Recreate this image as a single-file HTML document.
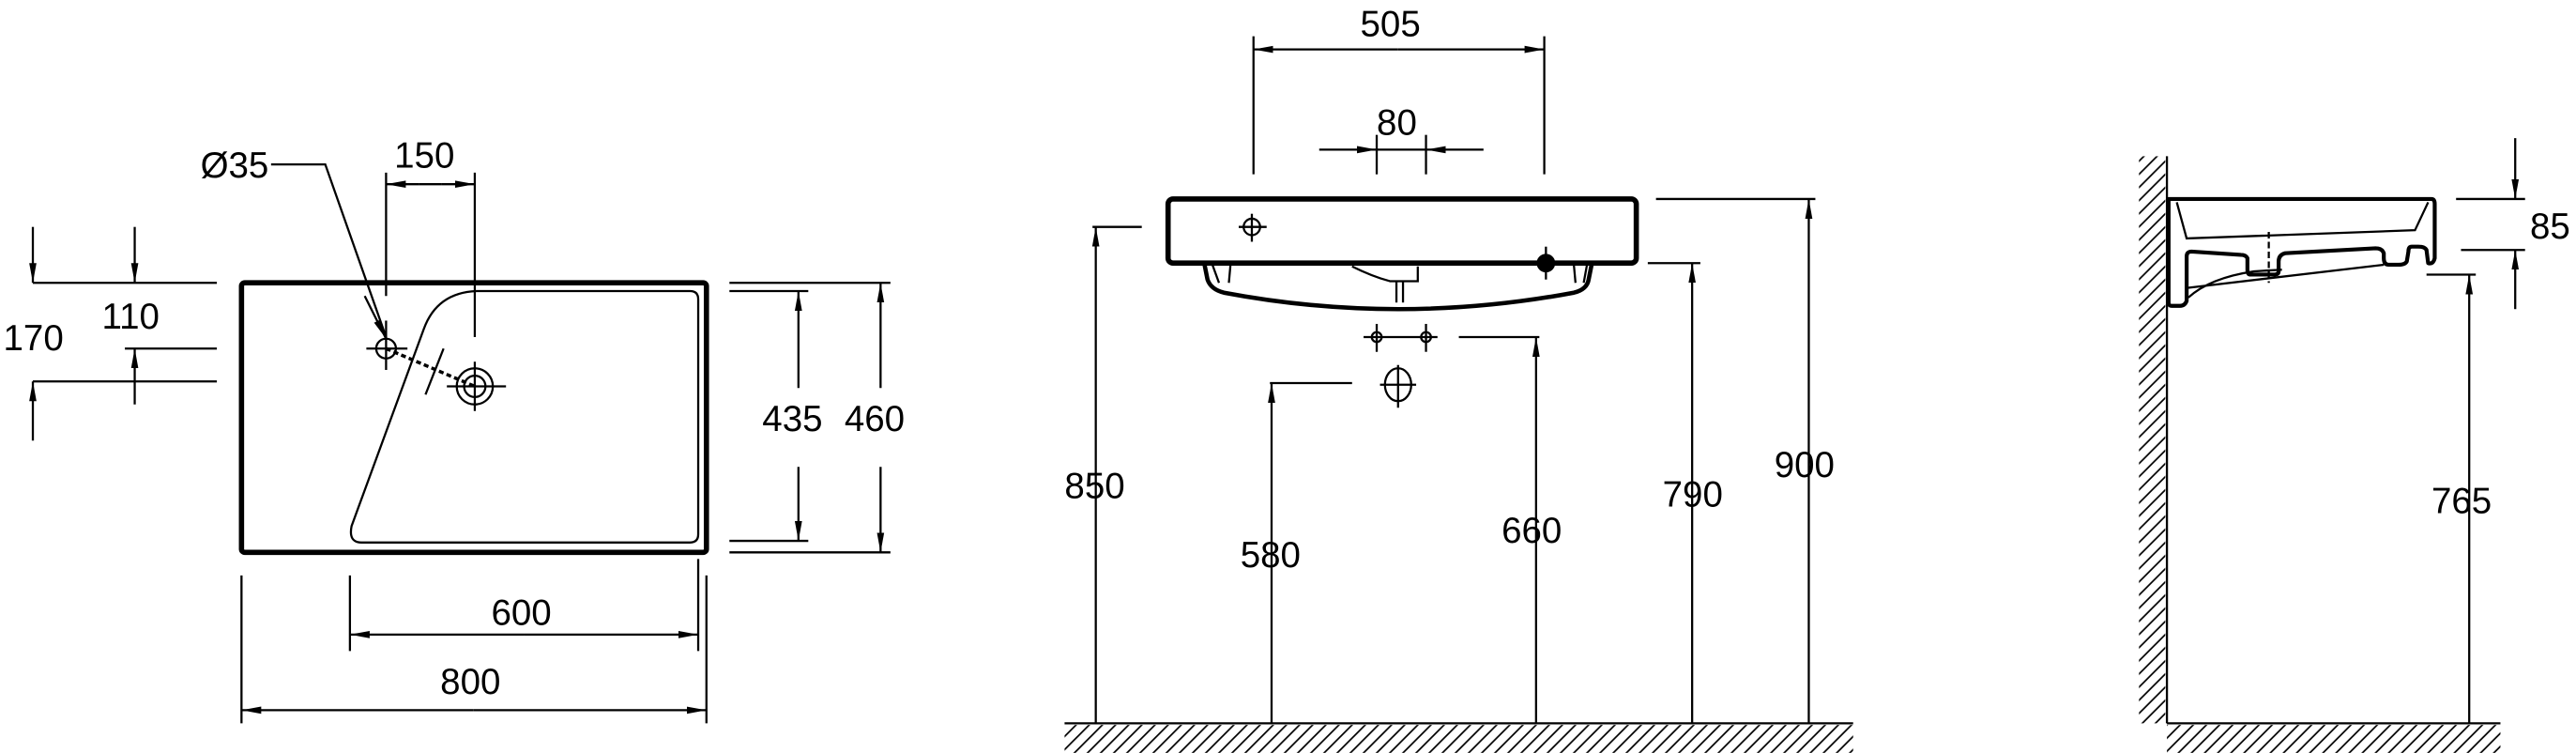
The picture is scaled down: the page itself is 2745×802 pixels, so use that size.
<!DOCTYPE html>
<html><head><meta charset="utf-8"><style>
html,body{margin:0;padding:0;background:#fff;}
svg{display:block;}
text{font-family:"Liberation Sans",sans-serif;font-size:22px;fill:#000;}
</style></head><body>
<svg width="2745" height="802" viewBox="0 0 1568 458" xmlns="http://www.w3.org/2000/svg">
<defs>
<marker id="a" markerWidth="12" markerHeight="6" refX="12" refY="3" orient="auto" markerUnits="userSpaceOnUse"><path d="M0,0.8 L12,3 L0,5.2z" fill="#000"/></marker>
<pattern id="h" width="8" height="8" patternUnits="userSpaceOnUse"><path d="M0,8 L8,0 M-2,2 L2,-2 M6,10 L10,6" stroke="#000" stroke-width="1"/></pattern>
</defs>
<g fill="none" stroke="#000" stroke-width="1.3">
<!-- LEFT VIEW -->
<rect x="147" y="172" width="283" height="164" rx="2" stroke-width="3.2"/>
<path d="M290,177 L420,177 Q425,177 425,182 L425,325 Q425,330 420,330 L220,330 Q212,330 214,320 L258,200 Q266,178 290,177"/>
<line x1="20" y1="172" x2="132" y2="172"/><line x1="20" y1="232" x2="132" y2="232"/><line x1="76" y1="212" x2="132" y2="212"/>
<line x1="20" y1="138" x2="20" y2="172" marker-end="url(#a)"/><line x1="20" y1="268" x2="20" y2="232" marker-end="url(#a)"/>
<line x1="82" y1="138" x2="82" y2="172" marker-end="url(#a)"/><line x1="82" y1="246" x2="82" y2="212" marker-end="url(#a)"/>
<line x1="235" y1="105" x2="235" y2="180"/><line x1="235" y1="195" x2="235" y2="225"/><line x1="289" y1="105" x2="289" y2="205"/>
<line x1="255" y1="112" x2="235" y2="112" marker-end="url(#a)"/><line x1="269" y1="112" x2="289" y2="112" marker-end="url(#a)"/><line x1="255" y1="112" x2="269" y2="112"/>
<path d="M165,100 L198,100 L235,205" /><line x1="222" y1="180" x2="235" y2="206" marker-end="url(#a)"/>
<circle cx="235" cy="212" r="6"/><line x1="223" y1="212" x2="248" y2="212"/>
<circle cx="289" cy="235" r="11"/><circle cx="289" cy="235" r="6.5"/><line x1="289" y1="220" x2="289" y2="250"/><line x1="272" y1="235" x2="308" y2="235"/>
<line x1="235" y1="212" x2="289" y2="235" stroke-dasharray="3,2" stroke-width="2"/><line x1="270" y1="212" x2="259" y2="240"/>
<line x1="444" y1="172" x2="542" y2="172"/><line x1="444" y1="336" x2="542" y2="336"/><line x1="444" y1="177" x2="492" y2="177"/><line x1="444" y1="329" x2="492" y2="329"/>
<line x1="486" y1="236" x2="486" y2="177" marker-end="url(#a)"/><line x1="486" y1="284" x2="486" y2="329" marker-end="url(#a)"/>
<line x1="536" y1="236" x2="536" y2="172" marker-end="url(#a)"/><line x1="536" y1="284" x2="536" y2="336" marker-end="url(#a)"/>
<line x1="213" y1="350" x2="213" y2="396"/><line x1="425" y1="340" x2="425" y2="396"/>
<line x1="319" y1="386" x2="213" y2="386" marker-end="url(#a)"/><line x1="319" y1="386" x2="425" y2="386" marker-end="url(#a)"/>
<line x1="147" y1="350" x2="147" y2="440"/><line x1="430" y1="350" x2="430" y2="440"/>
<line x1="288" y1="432" x2="147" y2="432" marker-end="url(#a)"/><line x1="288" y1="432" x2="430" y2="432" marker-end="url(#a)"/>
<!-- MIDDLE VIEW -->
<rect x="711" y="121" width="285" height="39" rx="3" stroke-width="3.2"/>
<path d="M733,160 L735,170 Q737,176 745,178 Q851,198 958,178 Q966,176 967,170 L969,160" stroke-width="2.6"/>
<path d="M738,161 L742,172 M749,161 L748,172 M958,161 L959,172 M966,161 L964,172"/>
<path d="M823,162 Q835,168 846,171 L863,171 L863,162"/><line x1="850" y1="171" x2="850" y2="184"/><line x1="854" y1="171" x2="854" y2="184"/>
<circle cx="762" cy="138" r="5"/><line x1="754" y1="138" x2="771" y2="138"/><line x1="762" y1="130" x2="762" y2="147"/>
<circle cx="941" cy="160" r="5" fill="#000"/><line x1="941" y1="150" x2="941" y2="170"/>
<line x1="763" y1="22" x2="763" y2="106"/><line x1="940" y1="22" x2="940" y2="106"/>
<line x1="851" y1="30" x2="763" y2="30" marker-end="url(#a)"/><line x1="851" y1="30" x2="940" y2="30" marker-end="url(#a)"/>
<line x1="838" y1="82" x2="838" y2="106"/><line x1="868" y1="82" x2="868" y2="106"/>
<line x1="803" y1="91" x2="838" y2="91" marker-end="url(#a)"/><line x1="903" y1="91" x2="868" y2="91" marker-end="url(#a)"/><line x1="838" y1="91" x2="868" y2="91"/>
<circle cx="838" cy="205" r="3"/><circle cx="868" cy="205" r="3"/><line x1="830" y1="205" x2="875" y2="205"/><line x1="838" y1="197" x2="838" y2="214"/><line x1="868" y1="197" x2="868" y2="214"/>
<ellipse cx="851" cy="234" rx="8" ry="10"/><line x1="840" y1="234" x2="862" y2="234"/><line x1="851" y1="222" x2="851" y2="248"/>
<line x1="665" y1="138" x2="695" y2="138"/><line x1="667" y1="440" x2="667" y2="138" marker-end="url(#a)"/>
<line x1="773" y1="233" x2="823" y2="233"/><line x1="774" y1="440" x2="774" y2="233" marker-end="url(#a)"/>
<line x1="888" y1="205" x2="937" y2="205"/><line x1="935" y1="440" x2="935" y2="205" marker-end="url(#a)"/>
<line x1="1003" y1="160" x2="1035" y2="160"/><line x1="1030" y1="440" x2="1030" y2="160" marker-end="url(#a)"/>
<line x1="1008" y1="121" x2="1105" y2="121"/><line x1="1101" y1="440" x2="1101" y2="121" marker-end="url(#a)"/>
<line x1="648" y1="440" x2="1128" y2="440"/>
<!-- RIGHT VIEW -->
<line x1="1319" y1="95" x2="1319" y2="440"/><line x1="1319" y1="440" x2="1522" y2="440"/>
<path d="M1320,121 L1480,121 Q1482,121 1482,124 L1482,157 Q1481,161 1478,160 L1477,152 Q1476,150 1472,150 L1468,150 Q1466,150 1466,153 L1465,159 Q1464,161 1460,161 L1454,161 Q1451,161 1451,157 L1451,154 Q1450,151 1446,151 L1391,154 Q1387,155 1387,159 L1387,165 Q1387,167 1384,167 L1370,167 Q1368,167 1368,164 L1368,157 Q1367,155 1364,155 L1334,153 Q1331,153 1331,156 L1331,183 Q1330,186 1327,186 L1322,186 Q1320,186 1320,184 Z" stroke-width="2.4" stroke-linejoin="round"/>
<path d="M1325,123 L1331,145 L1470,140 L1478,123"/>
<path d="M1332,181 Q1345,169 1372,165 L1389,164"/><path d="M1332,175 L1451,161"/>
<line x1="1381" y1="141" x2="1381" y2="172" stroke-dasharray="4,2"/>
<line x1="1495" y1="121" x2="1537" y2="121"/><line x1="1498" y1="152" x2="1537" y2="152"/>
<line x1="1531" y1="84" x2="1531" y2="121" marker-end="url(#a)"/><line x1="1531" y1="188" x2="1531" y2="152" marker-end="url(#a)"/>
<line x1="1477" y1="167" x2="1507" y2="167"/><line x1="1503" y1="440" x2="1503" y2="167" marker-end="url(#a)"/>
</g>
<rect x="648" y="441" width="480" height="17" fill="url(#h)"/>
<rect x="1319" y="441" width="203" height="17" fill="url(#h)"/>
<rect x="1302" y="95" width="16" height="345" fill="url(#h)"/>
<text x="2" y="213">170</text><text x="62" y="200">110</text><text x="122" y="108">Ø35</text><text x="240" y="102">150</text>
<text x="464" y="262">435</text><text x="514" y="262">460</text><text x="299" y="380">600</text><text x="268" y="422">800</text>
<text x="828" y="22">505</text><text x="838" y="82">80</text><text x="648" y="303">850</text><text x="755" y="345">580</text>
<text x="914" y="330">660</text><text x="1012" y="308">790</text><text x="1080" y="290">900</text>
<text x="1540" y="145">85</text><text x="1480" y="312">765</text>
</svg>
</body></html>
